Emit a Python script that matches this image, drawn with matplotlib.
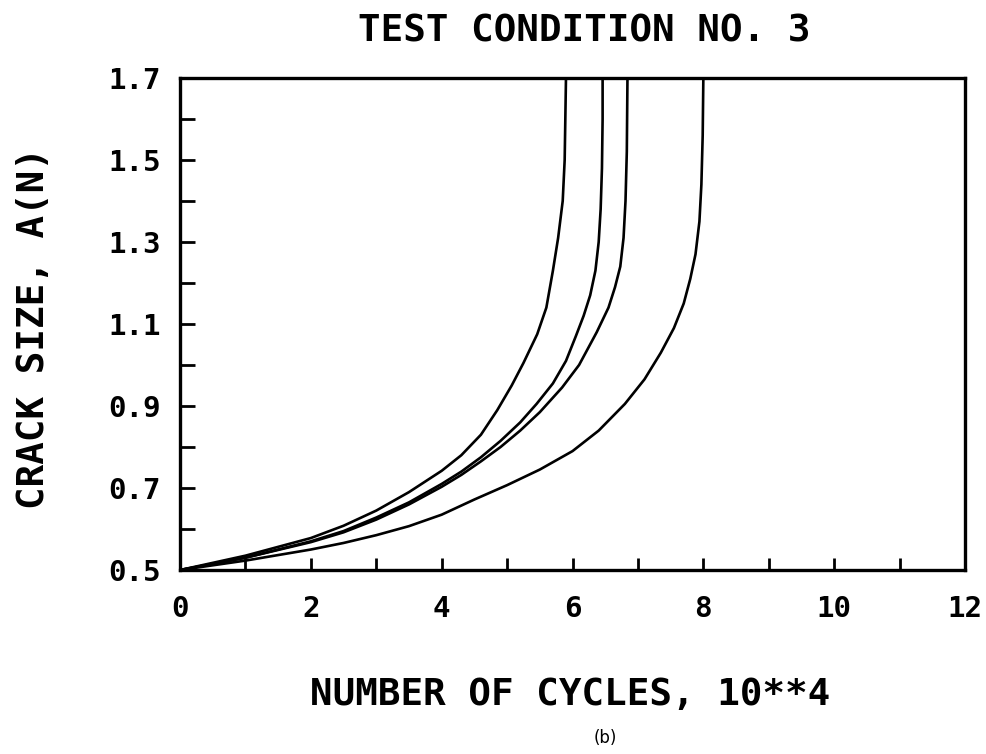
import matplotlib
matplotlib.use("Agg")
import matplotlib.pyplot as plt
from matplotlib.ticker import MultipleLocator, FixedLocator, FixedFormatter

# ── data (cycles in 10**4, crack size) ────────────────────────────
CYCLES_A = [0, 1, 2, 2.5, 3, 3.5, 4, 4.3, 4.6, 4.85, 5.07, 5.25, 5.46, 5.6,
            5.7, 5.78, 5.85, 5.88, 5.89, 5.9]
CRACK_A = [0.5, 0.535, 0.578, 0.608, 0.645, 0.69, 0.742, 0.78, 0.83, 0.89,
           0.95, 1.005, 1.075, 1.14, 1.23, 1.31, 1.40, 1.50, 1.60, 1.70]

CYCLES_B = [0, 1, 2, 2.5, 3, 3.5, 4, 4.3, 4.6, 4.9, 5.2, 5.45, 5.7, 5.9,
            6.05, 6.17, 6.27, 6.35, 6.4, 6.43, 6.45, 6.46, 6.46]
CRACK_B = [0.5, 0.53, 0.57, 0.595, 0.628, 0.665, 0.71, 0.74, 0.775, 0.815,
           0.86, 0.905, 0.955, 1.01, 1.07, 1.12, 1.17, 1.23, 1.30, 1.38,
           1.48, 1.60, 1.70]

CYCLES_C = [0, 1, 2, 2.5, 3, 3.5, 4, 4.3, 4.6, 4.9, 5.2, 5.5, 5.84, 6.1,
            6.37, 6.55, 6.65, 6.73, 6.78, 6.81, 6.83, 6.84]
CRACK_C = [0.5, 0.53, 0.568, 0.592, 0.623, 0.66, 0.703, 0.732, 0.765, 0.80,
           0.84, 0.885, 0.945, 1.0, 1.08, 1.14, 1.19, 1.24, 1.31, 1.40,
           1.52, 1.70]

CYCLES_D = [0, 1, 2, 2.5, 3, 3.5, 4, 4.5, 5, 5.5, 6, 6.4, 6.8, 7.1, 7.35,
            7.55, 7.7, 7.8, 7.88, 7.94, 7.97, 7.99, 8.0]
CRACK_D = [0.5, 0.523, 0.55, 0.566, 0.585, 0.607, 0.635, 0.672, 0.707, 0.745,
           0.79, 0.84, 0.905, 0.965, 1.03, 1.09, 1.15, 1.21, 1.27, 1.35,
           1.44, 1.56, 1.70]

X_TICKS = [0, 2, 4, 6, 8, 10, 12]
X_LABELS = ["0", "2", "4", "6", "8", "10", "12"]
Y_TICKS = [0.5, 0.7, 0.9, 1.1, 1.3, 1.5, 1.7]
Y_LABELS = ["0.5", "0.7", "0.9", "1.1", "1.3", "1.5", "1.7"]

MONO = ["DejaVu Sans Mono"]

fig = plt.figure(figsize=(9.86, 7.54), dpi=100)
ax = fig.add_axes([0.1826, 0.244, 0.7961, 0.6526])

for xs, ys in [(CYCLES_A, CRACK_A), (CYCLES_B, CRACK_B),
               (CYCLES_C, CRACK_C), (CYCLES_D, CRACK_D)]:
    ax.plot(xs, ys, color="black", lw=1.9, solid_joinstyle="round")

ax.set_xlim(0, 12)
ax.set_ylim(0.5, 1.7)

ax.xaxis.set_major_locator(FixedLocator(X_TICKS))
ax.xaxis.set_major_formatter(FixedFormatter(X_LABELS))
ax.xaxis.set_minor_locator(MultipleLocator(1))
ax.yaxis.set_major_locator(FixedLocator(Y_TICKS))
ax.yaxis.set_major_formatter(FixedFormatter(Y_LABELS))
ax.yaxis.set_minor_locator(MultipleLocator(0.1))

ax.tick_params(axis="both", which="both", direction="in", width=2.0,
               top=False, right=False, color="black")
ax.tick_params(axis="x", which="both", length=9)
ax.tick_params(axis="y", which="both", length=11)
ax.tick_params(axis="x", which="major", pad=18)
ax.tick_params(axis="y", which="major", pad=14)

for lab in ax.get_xticklabels() + ax.get_yticklabels():
    lab.set_family(MONO)
    lab.set_fontweight("bold")
    lab.set_fontsize(21)

for sp in ax.spines.values():
    sp.set_linewidth(2.4)

fig.text(0.593, 0.958, "TEST CONDITION NO. 3", ha="center", va="center",
         family=MONO, fontweight="bold", fontsize=27)
fig.text(0.034, 0.565, "CRACK SIZE, A(N)", ha="center", va="center",
         rotation=90, family=MONO, fontweight="bold", fontsize=27)
fig.text(0.578, 0.078, "NUMBER OF CYCLES, 10**4", ha="center", va="center",
         family=MONO, fontweight="bold", fontsize=27)
fig.text(0.614, 0.021, "(b)", ha="center", va="center", fontsize=12)

fig.savefig("out.png", dpi=100, facecolor="white")
